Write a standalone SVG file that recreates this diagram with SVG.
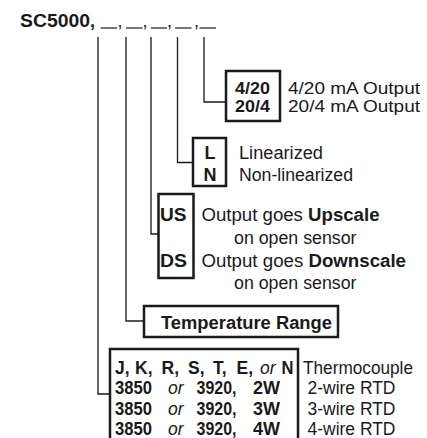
<svg xmlns="http://www.w3.org/2000/svg" width="427" height="438" viewBox="0 0 427 438">
<style>
text{font-family:"Liberation Sans",Arial,sans-serif;fill:#1a1a1a;font-size:18px}
.b{font-weight:bold}
.i{font-style:italic}
.s{font-size:17.5px}
.o{font-size:17px}
.box{fill:none;stroke:#1a1a1a;stroke-width:2.5}
.con{fill:none;stroke:#1a1a1a;stroke-width:1.3}
.us{stroke:#1a1a1a;stroke-width:1.2}
</style>
<rect width="427" height="438" fill="#fff"/>
<g id="title">
<text class="b" x="20" y="26.5" font-size="21" textLength="70" lengthAdjust="spacingAndGlyphs">SC5000</text>
<text class="b" x="90" y="26.5" font-size="20">,</text>
<line class="us" x1="100.5" y1="28" x2="117" y2="28"/>
<line class="us" x1="126" y1="28" x2="142.5" y2="28"/>
<line class="us" x1="151" y1="28" x2="167" y2="28"/>
<line class="us" x1="175" y1="28" x2="191.5" y2="28"/>
<line class="us" x1="199.5" y1="28" x2="216" y2="28"/>
<text x="120" y="27" text-anchor="middle" font-size="15">,</text>
<text x="145" y="27" text-anchor="middle" font-size="15">,</text>
<text x="169.5" y="27" text-anchor="middle" font-size="15">,</text>
<text x="196.5" y="27" text-anchor="middle" font-size="15">,</text>
</g>
<g id="connectors">
<polyline class="con" points="98,37 98,394 110,394"/>
<polyline class="con" points="126,37 126,321 144,321"/>
<polyline class="con" points="151,37 151,234 158.5,234"/>
<polyline class="con" points="177.5,37 177.5,162.5 193,162.5"/>
<polyline class="con" points="204,37 204,102 226,102"/>
</g>
<g id="output">
<rect class="box" x="226" y="71" width="54" height="50"/>
<text class="b o" x="235" y="94" textLength="35" lengthAdjust="spacingAndGlyphs">4/20</text>
<text class="b o" x="235" y="112" textLength="35" lengthAdjust="spacingAndGlyphs">20/4</text>
<text class="o" x="288" y="94" textLength="132" lengthAdjust="spacingAndGlyphs">4/20 mA Output</text>
<text class="o" x="288" y="112" textLength="132" lengthAdjust="spacingAndGlyphs">20/4 mA Output</text>
</g>
<g id="linearization">
<rect class="box" x="193" y="138" width="33" height="48"/>
<text class="b" x="210" y="158.5" text-anchor="middle">L</text>
<text class="b" x="210" y="180.5" text-anchor="middle">N</text>
<text x="239" y="158.5" textLength="84" lengthAdjust="spacingAndGlyphs">Linearized</text>
<text x="239" y="180.5" textLength="114" lengthAdjust="spacingAndGlyphs">Non-linearized</text>
</g>
<g id="burnout">
<rect class="box" x="158.5" y="194" width="35" height="84"/>
<text class="b" x="160" y="220.5" textLength="26.5" lengthAdjust="spacingAndGlyphs">US</text>
<text class="b" x="160" y="267" textLength="27" lengthAdjust="spacingAndGlyphs">DS</text>
<text x="201.5" y="220.5" textLength="178" lengthAdjust="spacingAndGlyphs">Output goes <tspan class="b">Upscale</tspan></text>
<text x="234" y="243.5" textLength="122.5" lengthAdjust="spacingAndGlyphs">on open sensor</text>
<text x="201.5" y="267" textLength="204.5" lengthAdjust="spacingAndGlyphs">Output goes <tspan class="b">Downscale</tspan></text>
<text x="234" y="288.5" textLength="122.5" lengthAdjust="spacingAndGlyphs">on open sensor</text>
</g>
<g id="range">
<rect class="box" x="144" y="306" width="194" height="31"/>
<text class="b" x="161" y="328.5" font-size="19" textLength="171" lengthAdjust="spacingAndGlyphs">Temperature Range</text>
</g>
<g id="sensor">
<rect class="box" x="110" y="349" width="188" height="100"/>
<text class="b s" x="115" y="373.5">J,</text>
<text class="b s" x="135" y="373.5">K,</text>
<text class="b s" x="161.5" y="373.5">R,</text>
<text class="b s" x="188" y="373.5">S,</text>
<text class="b s" x="213" y="373.5">T,</text>
<text class="b s" x="236.5" y="373.5">E,</text>
<text class="i s" x="260" y="373.5">or</text>
<text class="b s" x="281.5" y="373.5" textLength="12" lengthAdjust="spacingAndGlyphs">N</text>
<text class="b s" x="115" y="394" textLength="37" lengthAdjust="spacingAndGlyphs">3850</text>
<text class="i s" x="168" y="394">or</text>
<text class="b s" x="196.5" y="394" textLength="40" lengthAdjust="spacingAndGlyphs">3920,</text>
<text class="b s" x="253" y="394" textLength="27" lengthAdjust="spacingAndGlyphs">2W</text>
<text class="b s" x="115" y="414.5" textLength="37" lengthAdjust="spacingAndGlyphs">3850</text>
<text class="i s" x="168" y="414.5">or</text>
<text class="b s" x="196.5" y="414.5" textLength="40" lengthAdjust="spacingAndGlyphs">3920,</text>
<text class="b s" x="253" y="414.5" textLength="27" lengthAdjust="spacingAndGlyphs">3W</text>
<text class="b s" x="115" y="435" textLength="37" lengthAdjust="spacingAndGlyphs">3850</text>
<text class="i s" x="168" y="435">or</text>
<text class="b s" x="196.5" y="435" textLength="40" lengthAdjust="spacingAndGlyphs">3920,</text>
<text class="b s" x="253" y="435" textLength="27" lengthAdjust="spacingAndGlyphs">4W</text>
<text class="s" x="303" y="373.5" textLength="110" lengthAdjust="spacingAndGlyphs">Thermocouple</text>
<text class="s" x="307.5" y="394" textLength="88" lengthAdjust="spacingAndGlyphs">2-wire RTD</text>
<text class="s" x="307.5" y="414.5" textLength="88" lengthAdjust="spacingAndGlyphs">3-wire RTD</text>
<text class="s" x="307.5" y="435" textLength="88" lengthAdjust="spacingAndGlyphs">4-wire RTD</text>
</g>
</svg>
